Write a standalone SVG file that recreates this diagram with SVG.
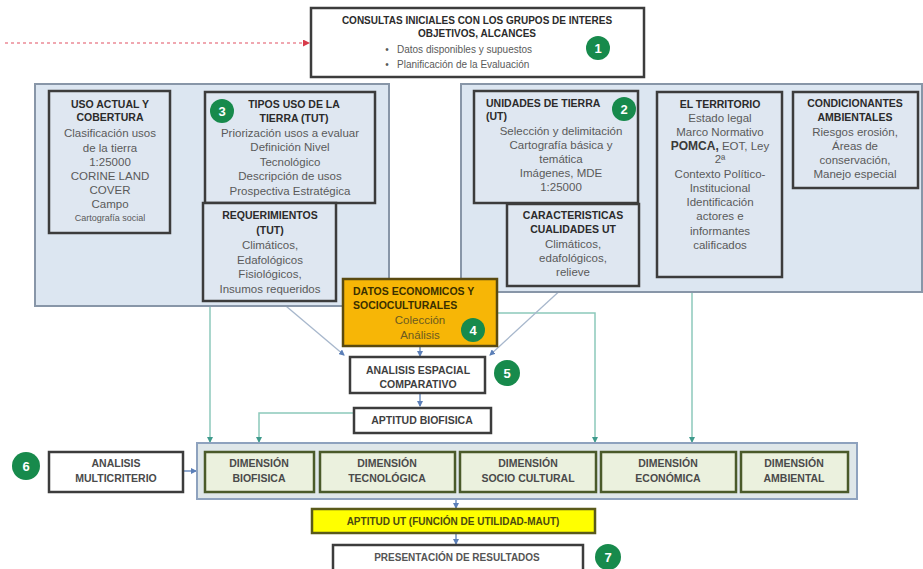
<svg xmlns="http://www.w3.org/2000/svg" width="923" height="569" viewBox="0 0 923 569">
<defs>
<style>
text{font-family:"Liberation Sans",Arial,sans-serif;text-anchor:middle}
.t{font-size:10.5px;font-weight:bold;fill:#2b2b2b}
.b{font-size:11.5px;fill:#5a5a5a}
.s{font-size:9px;fill:#5a5a5a}
.panel{fill:#dce6f1;stroke:#8896a8;stroke-width:2}
.box{fill:#dfe7f1;stroke:#3c3c3c;stroke-width:2.5}
.wbox{fill:#ffffff;stroke:#3c3c3c;stroke-width:2.5}
.dim{fill:#ebf1de;stroke:#4a5a2a;stroke-width:2.5}
.num{fill:#178a4c}
.numt{font-size:13px;font-weight:bold;fill:#ffffff}
.g{fill:none;stroke:#8cc9bb;stroke-width:1.5}
.d{fill:none;stroke:#a7b7cc;stroke-width:1.3}
.bl{fill:none;stroke:#6f8fc0;stroke-width:1.5}
</style>
<marker id="ag" markerWidth="6" markerHeight="6" refX="5" refY="3" orient="auto" markerUnits="userSpaceOnUse"><path d="M0,0 L6,3 L0,6 z" fill="#3f9a8c"/></marker>
<marker id="ab" markerWidth="6" markerHeight="6" refX="5" refY="3" orient="auto" markerUnits="userSpaceOnUse"><path d="M0,0 L6,3 L0,6 z" fill="#5b7fb8"/></marker>
<marker id="ar" markerWidth="7" markerHeight="7" refX="6" refY="3.5" orient="auto" markerUnits="userSpaceOnUse"><path d="M0,0 L7,3.5 L0,7 z" fill="#d83a4a"/></marker>
</defs>
<rect width="923" height="569" fill="#ffffff"/>

<g id="connectors">
<line x1="5" y1="43" x2="309" y2="43" stroke="#ec8a96" stroke-width="1.5" stroke-dasharray="3,3" marker-end="url(#ar)"/>
<polyline class="g" points="210,306 210,442" marker-end="url(#ag)"/>
<polyline class="g" points="353,413 259,413 259,442" marker-end="url(#ag)"/>
<polyline class="g" points="497,313 595,313 595,442" marker-end="url(#ag)"/>
<polyline class="g" points="692,292 692,442" marker-end="url(#ag)"/>
<line class="d" x1="280" y1="301" x2="344" y2="355" marker-end="url(#ab)"/>
<line class="d" x1="565" y1="286" x2="490" y2="355" marker-end="url(#ab)"/>
<line class="bl" x1="420" y1="347" x2="420" y2="356" marker-end="url(#ab)"/>
<line class="bl" x1="420" y1="393" x2="420" y2="406" marker-end="url(#ab)"/>
<line class="bl" x1="183" y1="471" x2="196" y2="471" marker-end="url(#ab)"/>
<line class="bl" x1="456" y1="499" x2="456" y2="508" marker-end="url(#ab)"/>
<line class="bl" x1="456" y1="533" x2="456" y2="544" marker-end="url(#ab)"/>
</g>

<g id="consultas">
<rect class="wbox" x="311" y="8" width="333" height="69"/>
<text class="t" x="477" y="24" style="font-size:10px">CONSULTAS INICIALES CON LOS GRUPOS DE INTERES</text>
<text class="t" x="477" y="37" style="font-size:10px">OBJETIVOS, ALCANCES</text>
<text class="b" x="387" y="53" style="font-size:10px">•</text>
<text class="b" x="397" y="53" style="font-size:10px;text-anchor:start">Datos disponibles y supuestos</text>
<text class="b" x="387" y="68" style="font-size:10px">•</text>
<text class="b" x="397" y="68" style="font-size:10px;text-anchor:start">Planificación de la Evaluación</text>
<circle class="num" cx="598" cy="48" r="12"/><text class="numt" x="598" y="53">1</text>
</g>

<g id="panel-left">
<rect class="panel" x="35" y="84" width="354" height="222"/>
</g>
<g id="panel-right">
<rect class="panel" x="461" y="84" width="461" height="208"/>
</g>

<g id="uso-actual">
<rect class="box" x="49" y="91" width="121" height="142"/>
<text class="t" x="110" y="108">USO ACTUAL Y</text>
<text class="t" x="110" y="121">COBERTURA</text>
<text class="b" x="110" y="137">Clasificación usos</text>
<text class="b" x="110" y="152">de la tierra</text>
<text class="b" x="110" y="166">1:25000</text>
<text class="b" x="110" y="180">CORINE LAND</text>
<text class="b" x="110" y="194">COVER</text>
<text class="b" x="110" y="208">Campo</text>
<text class="s" x="110" y="221">Cartografía social</text>
</g>

<g id="tipos-uso">
<rect class="box" x="205" y="92" width="170" height="111"/>
<text class="t" x="294" y="108">TIPOS USO DE LA</text>
<text class="t" x="294" y="122">TIERRA (TUT)</text>
<text class="b" x="290" y="137">Priorización usos a evaluar</text>
<text class="b" x="290" y="151">Definición Nivel</text>
<text class="b" x="290" y="166">Tecnológico</text>
<text class="b" x="290" y="180">Descripción de usos</text>
<text class="b" x="290" y="195">Prospectiva Estratégica</text>
<circle class="num" cx="222" cy="111" r="12"/><text class="numt" x="222" y="116">3</text>
</g>

<g id="requerimientos">
<rect class="box" x="203" y="203" width="133" height="98"/>
<text class="t" x="270" y="219">REQUERIMIENTOS</text>
<text class="t" x="270" y="234">(TUT)</text>
<text class="b" x="270" y="249">Climáticos,</text>
<text class="b" x="270" y="264">Edafológicos</text>
<text class="b" x="270" y="278">Fisiológicos,</text>
<text class="b" x="270" y="293">Insumos requeridos</text>
</g>

<g id="unidades-tierra">
<rect class="box" x="474" y="91" width="164" height="112"/>
<text class="t" x="486" y="107" style="text-anchor:start">UNIDADES DE TIERRA</text>
<text class="t" x="486" y="120" style="text-anchor:start">(UT)</text>
<text class="b" x="561" y="135">Selección y delimitación</text>
<text class="b" x="561" y="149">Cartografía  básica y</text>
<text class="b" x="561" y="163">temática</text>
<text class="b" x="561" y="177">Imágenes, MDE</text>
<text class="b" x="561" y="191">1:25000</text>
<circle class="num" cx="624" cy="109" r="12"/><text class="numt" x="624" y="114">2</text>
</g>

<g id="caracteristicas">
<rect class="box" x="507" y="204" width="132" height="82"/>
<text class="t" x="573" y="219">CARACTERISTICAS</text>
<text class="t" x="573" y="233">CUALIDADES UT</text>
<text class="b" x="573" y="248">Climáticos,</text>
<text class="b" x="573" y="262">edafológicos,</text>
<text class="b" x="573" y="276">relieve</text>
</g>

<g id="territorio">
<rect class="box" x="657" y="92" width="125" height="185"/>
<text class="t" x="720" y="108">EL TERRITORIO</text>
<text class="b" x="720" y="122">Estado legal</text>
<text class="b" x="720" y="136">Marco Normativo</text>
<text class="b" x="720" y="150"><tspan style="font-weight:bold;font-size:12px;fill:#3a3a3a">POMCA,</tspan> EOT, Ley</text>
<text class="b" x="720" y="163">2ª</text>
<text class="b" x="720" y="178">Contexto Político-</text>
<text class="b" x="720" y="192">Institucional</text>
<text class="b" x="720" y="206">Identificación</text>
<text class="b" x="720" y="220">actores e</text>
<text class="b" x="720" y="235">informantes</text>
<text class="b" x="720" y="249">calificados</text>
</g>

<g id="condicionantes">
<rect class="box" x="793" y="92" width="125" height="96"/>
<text class="t" x="855" y="107">CONDICIONANTES</text>
<text class="t" x="855" y="121">AMBIENTALES</text>
<text class="b" x="855" y="136">Riesgos erosión,</text>
<text class="b" x="855" y="150">Áreas de</text>
<text class="b" x="855" y="164">conservación,</text>
<text class="b" x="855" y="178">Manejo especial</text>
</g>

<g id="datos-economicos">
<rect x="343" y="279" width="154" height="67" fill="#f7b606" stroke="#5a4a10" stroke-width="2.5"/>
<text class="t" x="353" y="295" style="text-anchor:start;fill:#3a3000">DATOS ECONOMICOS Y</text>
<text class="t" x="353" y="309" style="text-anchor:start;fill:#3a3000">SOCIOCULTURALES</text>
<text class="b" x="420" y="324" style="fill:#6b5a20">Colección</text>
<text class="b" x="420" y="339" style="fill:#6b5a20">Análisis</text>
<circle class="num" cx="473" cy="330" r="12"/><text class="numt" x="473" y="335">4</text>
</g>

<g id="analisis-espacial">
<rect class="wbox" x="350" y="357" width="135" height="36"/>
<text class="t" x="418" y="374" style="fill:#3f3f3f">ANALISIS ESPACIAL</text>
<text class="t" x="418" y="388" style="fill:#3f3f3f">COMPARATIVO</text>
<circle class="num" cx="507" cy="373" r="13"/><text class="numt" x="507" y="378">5</text>
</g>

<g id="aptitud-biofisica">
<rect class="wbox" x="354" y="408" width="137" height="25"/>
<text class="t" x="422" y="424" style="fill:#3f3f3f">APTITUD BIOFISICA</text>
</g>

<g id="dimensiones">
<rect x="197" y="443" width="660" height="56" fill="#dfe7e9" stroke="#8ea2be" stroke-width="2"/>
</g>
<g id="dim-biofisica">
<rect class="dim" x="205" y="452" width="109" height="40"/>
<text class="t" x="259" y="467" style="fill:#4a4a4a">DIMENSIÓN</text>
<text class="t" x="259" y="482" style="fill:#4a4a4a">BIOFISICA</text>
</g>
<g id="dim-tecnologica">
<rect class="dim" x="320" y="452" width="135" height="40"/>
<text class="t" x="387" y="467" style="fill:#4a4a4a">DIMENSIÓN</text>
<text class="t" x="387" y="482" style="fill:#4a4a4a">TECNOLÓGICA</text>
</g>
<g id="dim-sociocultural">
<rect class="dim" x="460" y="452" width="136" height="40"/>
<text class="t" x="528" y="467" style="fill:#4a4a4a">DIMENSIÓN</text>
<text class="t" x="528" y="482" style="fill:#4a4a4a">SOCIO CULTURAL</text>
</g>
<g id="dim-economica">
<rect class="dim" x="601" y="452" width="135" height="40"/>
<text class="t" x="668" y="467" style="fill:#4a4a4a">DIMENSIÓN</text>
<text class="t" x="668" y="482" style="fill:#4a4a4a">ECONÓMICA</text>
</g>
<g id="dim-ambiental">
<rect class="dim" x="741" y="452" width="107" height="40"/>
<text class="t" x="794" y="467" style="fill:#4a4a4a">DIMENSIÓN</text>
<text class="t" x="794" y="482" style="fill:#4a4a4a">AMBIENTAL</text>
</g>

<g id="multicriterio">
<rect class="wbox" x="49" y="452" width="134" height="40"/>
<text class="t" x="116" y="467" style="fill:#4a4a4a">ANALISIS</text>
<text class="t" x="116" y="482" style="fill:#4a4a4a">MULTICRITERIO</text>
<circle class="num" cx="26" cy="466" r="14"/><text class="numt" x="26" y="471">6</text>
</g>

<g id="aptitud-ut">
<rect x="312" y="509" width="283" height="24" fill="#ffff00" stroke="#5a5a1a" stroke-width="2.5"/>
<text class="t" x="453" y="525" style="font-size:10px;fill:#4a4a10">APTITUD UT (FUNCIÓN DE UTILIDAD-MAUT)</text>
</g>

<g id="presentacion">
<rect class="wbox" x="333" y="545" width="250" height="30"/>
<text class="t" x="457" y="561" style="font-size:10px;fill:#555555">PRESENTACIÓN DE RESULTADOS</text>
<circle class="num" cx="608" cy="557" r="13"/><text class="numt" x="608" y="562">7</text>
</g>
</svg>
